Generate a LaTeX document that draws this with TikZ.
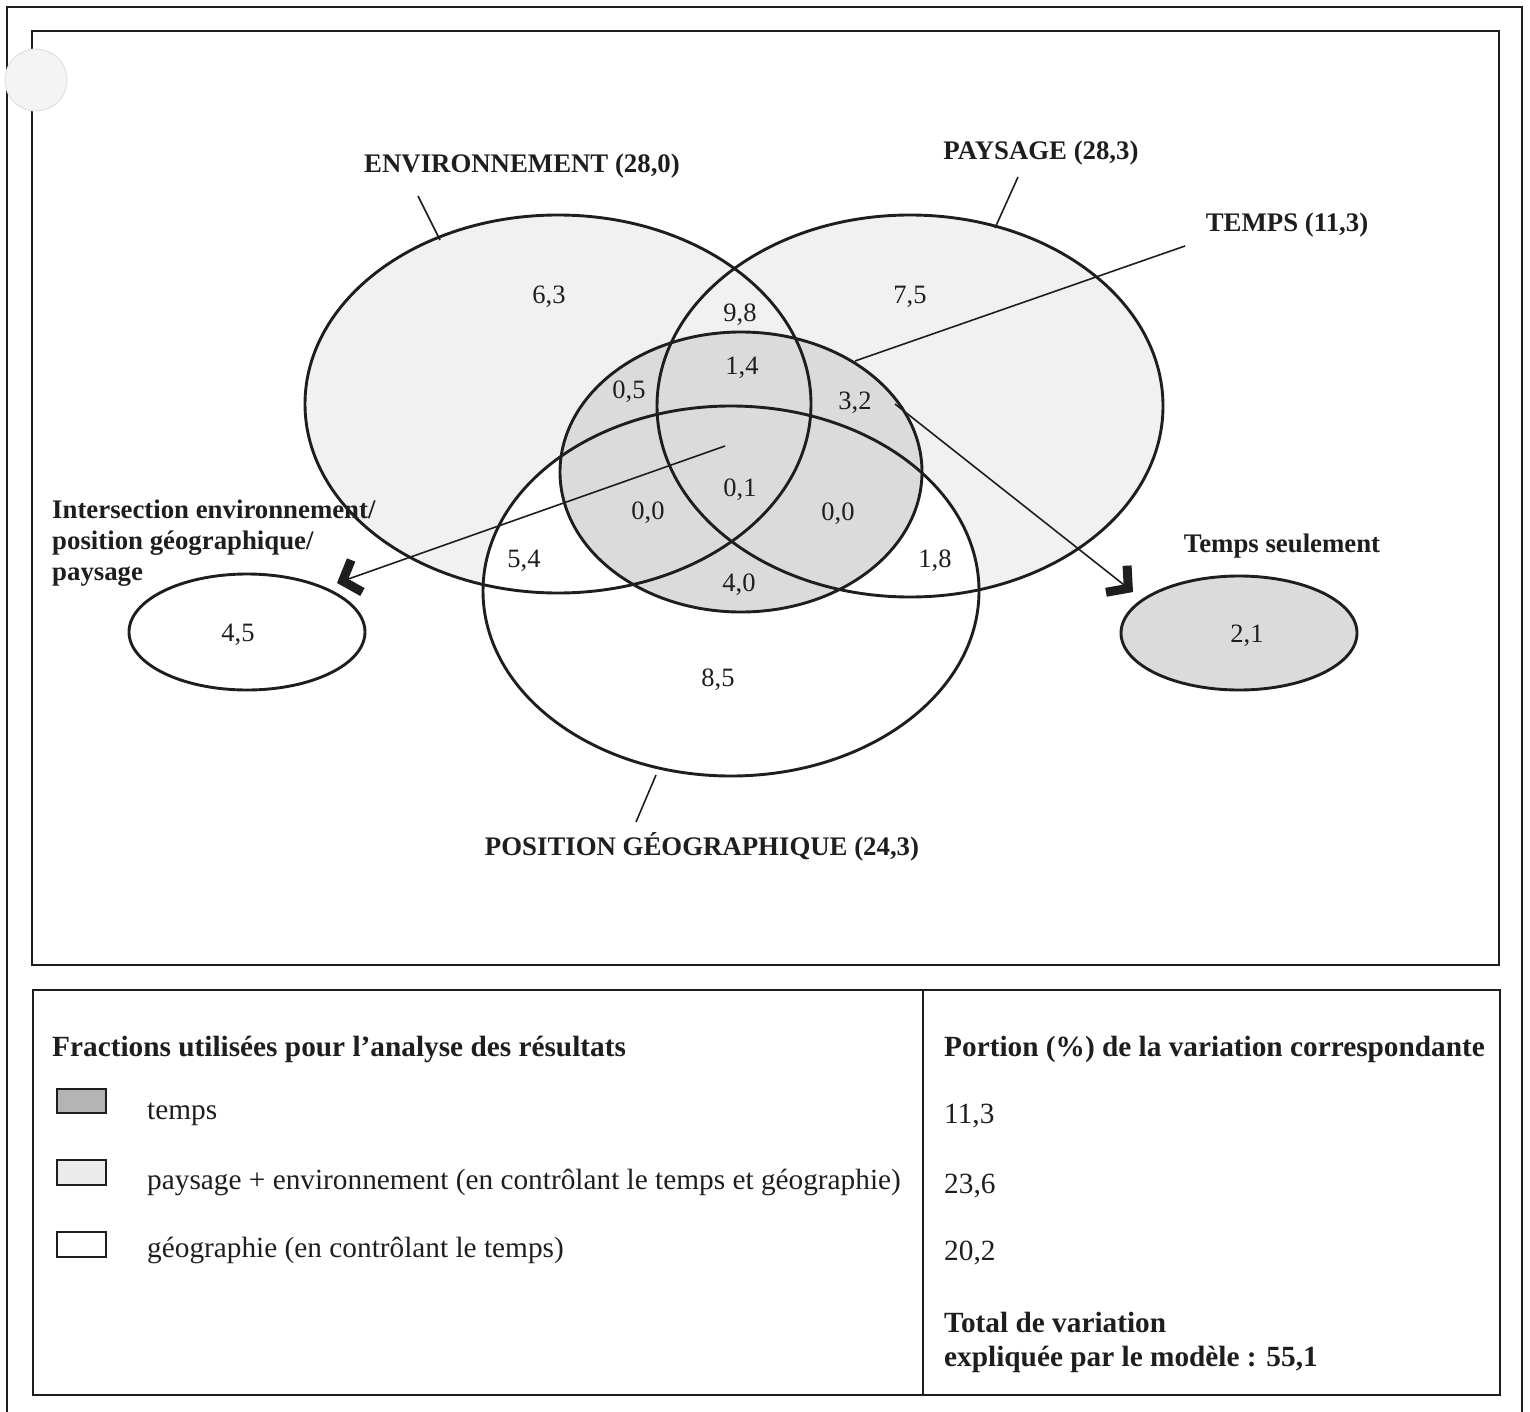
\documentclass[tikz,border=0pt]{standalone}
\usepackage{fontspec}
\setmainfont{Liberation Serif}
\usetikzlibrary{arrows.meta}
\definecolor{lightfill}{HTML}{F1F1F1}
\definecolor{timefill}{HTML}{DBDBDB}
\definecolor{swatchdark}{HTML}{B4B4B4}
\definecolor{swatchlight}{HTML}{EBEBEB}
\definecolor{holefill}{HTML}{F4F4F4}
\definecolor{ink}{HTML}{1E1E1E}

\begin{document}
\begin{tikzpicture}[x=1pt,y=-1pt,line join=miter,
  txt/.style={font=\fontsize{26.5}{31}\selectfont,inner sep=0pt,text=ink},
  num/.style={txt,anchor=base},
  lbl/.style={txt,font=\fontsize{26.8}{31}\selectfont\bfseries},
  legtxt/.style={txt,font=\fontsize{29.3}{34}\selectfont,anchor=base west},
  legbold/.style={txt,font=\fontsize{29.3}{34}\selectfont\bfseries,anchor=base west},
  frame/.style={line width=2.6pt,draw=ink},
  outline/.style={line width=2.9pt,draw=ink},
  leader/.style={line width=1.6pt,draw=ink},
  pointer/.style={line width=1.6pt,draw=ink,
    -{Straight Barb[length=15pt,width=34pt,line width=9pt]}},
  swatch/.style={line width=2.4pt,draw=ink},
]
\useasboundingbox (0,0) rectangle (1530,1412);

% frames
\draw[frame] (7,1412) -- (7,7) -- (1522,7) -- (1522,1412);
\draw[frame] (32,31) rectangle (1499,965);
\draw[frame] (33,990) rectangle (1500,1395);
\draw[frame] (923,990) -- (923,1395);

% Venn fills (order matters)
\fill[lightfill] (558,404) ellipse [x radius=253pt,y radius=189pt];
\fill[lightfill] (910,406) ellipse [x radius=253pt,y radius=191pt];
\fill[white] (731,591) ellipse [x radius=248pt,y radius=185pt];
\fill[timefill] (741,472) ellipse [x radius=181pt,y radius=140pt];

% Venn outlines
\draw[outline] (558,404) ellipse [x radius=253pt,y radius=189pt];
\draw[outline] (910,406) ellipse [x radius=253pt,y radius=191pt];
\draw[outline] (731,591) ellipse [x radius=248pt,y radius=185pt];
\draw[outline] (741,472) ellipse [x radius=181pt,y radius=140pt];

% side ellipses
\draw[outline,fill=white] (247,632) ellipse [x radius=118pt,y radius=58pt];
\draw[outline,fill=timefill] (1239,633) ellipse [x radius=118pt,y radius=57pt];

% set labels
\node[lbl,anchor=base] (envlbl) at (522,173) {ENVIRONNEMENT (28,0)};
\node[lbl,anchor=base] (paylbl) at (1041,160) {PAYSAGE (28,3)};
\node[lbl,anchor=base] (temlbl) at (1287,232) {TEMPS (11,3)};
\node[lbl,anchor=base] (poslbl) at (702,855) {POSITION GÉOGRAPHIQUE (24,3)};
\node[lbl,anchor=base west] (intA) at (52,518) {Intersection environnement/};
\node[lbl,anchor=base west] (intB) at (52,549) {position géographique/};
\node[lbl,anchor=base west] (intC) at (52,580) {paysage};
\node[lbl,anchor=base] (seul) at (1282,552) {Temps seulement};

% leader lines
\coordinate (envA) at (418,196); \coordinate (envB) at (440,240);
\coordinate (payA) at (1018,177); \coordinate (payB) at (995,228);
\coordinate (temA) at (1185,246); \coordinate (temB) at (855,361);
\coordinate (posA) at (656,775); \coordinate (posB) at (636,822);
\draw[leader] (envA) -- (envB);
\draw[leader] (payA) -- (payB);
\draw[leader] (temA) -- (temB);
\draw[leader] (posA) -- (posB);

% pointers to the side ellipses
\coordinate (ctrA) at (725,446); \coordinate (tipA) at (337,583);
\coordinate (ctrB) at (895,404); \coordinate (tipB) at (1133,592);
\draw[pointer] (ctrA) -- (tipA);
\draw[pointer] (ctrB) -- (tipB);

% fraction values
\node[num] (n63) at (549,304) {6,3};
\node[num] (n75) at (910,304) {7,5};
\node[num] (n98) at (740,322) {9,8};
\node[num] (n14) at (742,374) {1,4};
\node[num] (n05) at (629,398) {0,5};
\node[num] (n32) at (855,409) {3,2};
\node[num] (n01) at (740,496) {0,1};
\node[num] (n00a) at (648,519) {0,0};
\node[num] (n00b) at (838,520) {0,0};
\node[num] (n54) at (524,567) {5,4};
\node[num] (n18) at (935,567) {1,8};
\node[num] (n40) at (739,591) {4,0};
\node[num] (n85) at (718,686) {8,5};
\node[num] (n45) at (238,641) {4,5};
\node[num] (n21) at (1247,642) {2,1};

% legend
\node[legbold] (fracT) at (52,1056) {Fractions utilisées pour l’analyse des résultats};
\draw[swatch,fill=swatchdark] (57,1089) rectangle (106,1113);
\draw[swatch,fill=swatchlight] (57,1160) rectangle (106,1185);
\draw[swatch,fill=white] (57,1232) rectangle (106,1257);
\node[legtxt] (legA) at (147,1119) {temps};
\node[legtxt] (legB) at (147,1189) {paysage + environnement (en contrôlant le temps et géographie)};
\node[legtxt] (legC) at (147,1257) {géographie (en contrôlant le temps)};

\node[legbold] (portT) at (944,1056) {Portion (\%) de la variation correspondante};
\node[legtxt] (valA) at (944,1123) {11,3};
\node[legtxt] (valB) at (944,1193) {23,6};
\node[legtxt] (valC) at (944,1260) {20,2};
\node[legbold] (totA) at (944,1332) {Total de variation};
\node[legbold] (totB) at (944,1366) {expliquée par le modèle : 55,1};

% punched hole
\fill[holefill] (36,80) circle [radius=31pt];
\draw[black!12,line width=1pt] (36,80) circle [radius=31pt];
\end{tikzpicture}
\end{document}
